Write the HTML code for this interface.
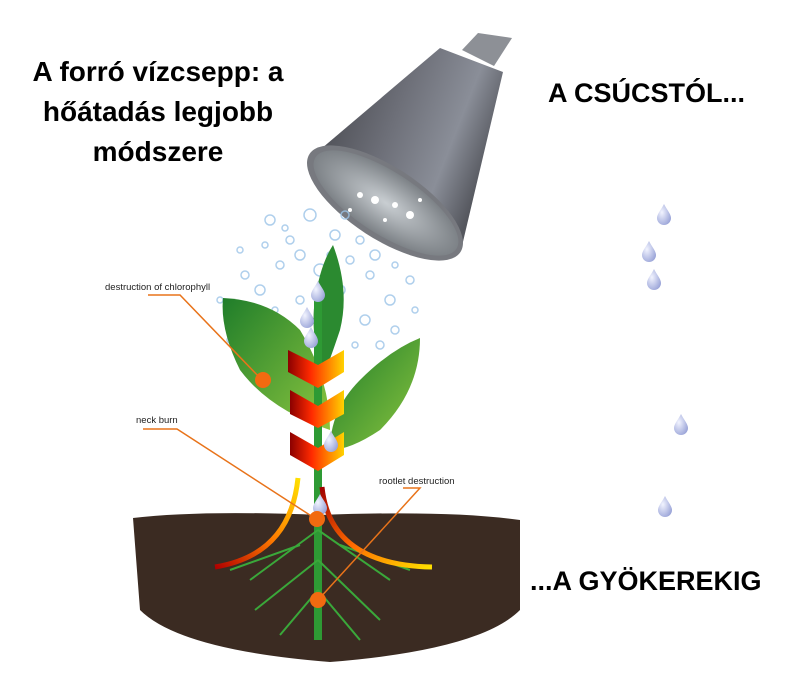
<!DOCTYPE html>
<html><head><meta charset="utf-8"><style>
body{margin:0;background:#fff;}
svg{display:block}
.t{font-family:"Liberation Sans",sans-serif;font-weight:bold;fill:#000}
.l{font-family:"Liberation Sans",sans-serif;font-size:9.5px;fill:#222}
</style></head><body>
<svg width="799" height="686" viewBox="0 0 799 686" xmlns="http://www.w3.org/2000/svg">
<defs>
<linearGradient id="cone" x1="0" y1="0" x2="1" y2="0.4">
<stop offset="0" stop-color="#3a3b40"/><stop offset="0.5" stop-color="#6d6f78"/><stop offset="0.8" stop-color="#8a8e98"/><stop offset="1" stop-color="#55575e"/></linearGradient>
<radialGradient id="inner" cx="0.5" cy="0.5" r="0.6"><stop offset="0" stop-color="#c9ced2"/><stop offset="1" stop-color="#6e7378"/></radialGradient>
<linearGradient id="chev" x1="0" y1="0" x2="1" y2="0"><stop offset="0" stop-color="#8b0000"/><stop offset="0.4" stop-color="#ff2a00"/><stop offset="1" stop-color="#ffd200"/></linearGradient>
<linearGradient id="leaf" x1="0" y1="0" x2="1" y2="1"><stop offset="0" stop-color="#1f7d2a"/><stop offset="1" stop-color="#8cc63f"/></linearGradient>
<linearGradient id="arcL" x1="0" y1="1" x2="1" y2="0"><stop offset="0" stop-color="#b00000"/><stop offset="0.5" stop-color="#ff7a00"/><stop offset="1" stop-color="#ffe000"/></linearGradient>
<linearGradient id="arcR" x1="0" y1="0" x2="1" y2="1"><stop offset="0" stop-color="#a00000"/><stop offset="0.5" stop-color="#ff6a00"/><stop offset="1" stop-color="#ffe000"/></linearGradient>
<radialGradient id="drop" cx="0.35" cy="0.4" r="0.7"><stop offset="0" stop-color="#f2f4ff"/><stop offset="1" stop-color="#9aa4d8"/></radialGradient>
<g id="d"><path d="M0,-11 C3,-5 7,-1 7,3 A7,7 0 0 1 -7,3 C-7,-1 -3,-5 0,-11Z" fill="url(#drop)"/></g>
</defs>
<text class="t" font-size="28" text-anchor="middle" x="158" y="81">A forró vízcsepp: a</text>
<text class="t" font-size="28" text-anchor="middle" x="158" y="121">hőátadás legjobb</text>
<text class="t" font-size="28" text-anchor="middle" x="158" y="161">módszere</text>
<text class="t" font-size="27" x="548" y="102">A CSÚCSTÓL...</text>
<text class="t" font-size="27" x="530" y="590">...A GYÖKEREKIG</text>
<!-- pipe -->
<polygon points="462,50 478,33 512,38 494,66" fill="#8d9096"/>
<!-- cone -->
<polygon points="440,48 503,72 462,246 308,160" fill="url(#cone)"/>
<ellipse cx="385" cy="203" rx="90" ry="36" transform="rotate(33 385 203)" fill="#77797f"/>
<ellipse cx="386" cy="203" rx="84" ry="31" transform="rotate(33 386 203)" fill="url(#inner)"/>
<g fill="#fff"><circle cx="360" cy="195" r="3"/><circle cx="375" cy="200" r="4"/><circle cx="395" cy="205" r="3"/><circle cx="410" cy="215" r="4"/><circle cx="385" cy="220" r="2"/><circle cx="350" cy="210" r="2"/><circle cx="420" cy="200" r="2"/></g>
<!-- bubbles -->
<g fill="none" stroke="#9cc4e8" stroke-width="1.5" opacity="0.8">
<circle cx="270" cy="220" r="5"/><circle cx="290" cy="240" r="4"/><circle cx="310" cy="215" r="6"/><circle cx="335" cy="235" r="5"/><circle cx="350" cy="260" r="4"/><circle cx="320" cy="270" r="6"/><circle cx="280" cy="265" r="4"/><circle cx="260" cy="290" r="5"/><circle cx="300" cy="300" r="4"/><circle cx="340" cy="290" r="5"/><circle cx="370" cy="275" r="4"/><circle cx="390" cy="300" r="5"/><circle cx="410" cy="280" r="4"/><circle cx="240" cy="250" r="3"/><circle cx="250" cy="320" r="3"/><circle cx="365" cy="320" r="5"/><circle cx="395" cy="330" r="4"/><circle cx="230" cy="340" r="3"/><circle cx="360" cy="240" r="4"/><circle cx="275" cy="310" r="3"/><circle cx="415" cy="310" r="3"/><circle cx="345" cy="215" r="4"/><circle cx="325" cy="320" r="3"/><circle cx="220" cy="300" r="3"/>
<circle cx="285" cy="228" r="3"/><circle cx="300" cy="255" r="5"/><circle cx="330" cy="255" r="3"/><circle cx="375" cy="255" r="5"/><circle cx="395" cy="265" r="3"/><circle cx="265" cy="245" r="3"/><circle cx="245" cy="275" r="4"/><circle cx="380" cy="345" r="4"/><circle cx="355" cy="345" r="3"/><circle cx="400" cy="355" r="3"/>
</g>
<!-- soil -->
<path d="M133,518 Q200,510 320,515 Q450,510 520,520 L520,610 Q480,650 330,662 Q180,650 140,610 Z" fill="#3b2b22"/>
<!-- leaves -->
<path d="M223,298 Q270,300 300,330 Q330,380 330,430 Q270,410 240,370 Q220,330 223,298Z" fill="url(#leaf)"/>
<path d="M420,338 Q420,390 380,430 Q350,450 330,450 Q330,410 360,380 Q390,350 420,338Z" fill="url(#leaf)"/>
<path d="M333,245 Q350,290 340,330 Q330,360 322,380 Q310,330 315,300 Q320,265 333,245Z" fill="#2b8a30"/>
<!-- stem -->
<rect x="314" y="300" width="8" height="340" fill="#2e9a34"/>
<g stroke="#3aa83a" stroke-width="2" fill="none">
<path d="M318,530 L250,580 M318,530 L390,580 M318,560 L255,610 M318,560 L380,620 M318,590 L280,635 M318,590 L360,640 M300,545 L230,570 M340,545 L410,570"/>
</g>
<!-- arcs -->
<path d="M298,478 Q290,555 215,567" stroke="url(#arcL)" stroke-width="5" fill="none"/>
<path d="M322,487 Q330,565 432,567" stroke="url(#arcR)" stroke-width="5" fill="none"/>
<!-- chevrons -->
<g fill="url(#chev)">
<polygon points="288,350 318,365 344,350 344,372 318,388 288,372"/>
<polygon points="290,390 318,406 344,390 344,414 318,428 290,414"/>
<polygon points="290,432 318,448 344,432 344,455 318,471 290,455"/>
</g>
<!-- drops -->
<use href="#d" x="318" y="292"/><use href="#d" x="307" y="318"/><use href="#d" x="311" y="338"/><use href="#d" x="331" y="442"/><use href="#d" x="320" y="505"/>
<use href="#d" x="664" y="215"/><use href="#d" x="649" y="252"/><use href="#d" x="654" y="280"/><use href="#d" x="681" y="425"/><use href="#d" x="665" y="507"/>
<!-- labels -->
<g stroke="#e8731a" stroke-width="1.5" fill="none">
<path d="M148,295 L180,295 L262,380"/>
<path d="M143,429 L177,429 L316,519"/>
<path d="M403,488 L420,488 L318,600"/>
</g>
<g fill="#f26a10"><circle cx="263" cy="380" r="8"/><circle cx="317" cy="519" r="8"/><circle cx="318" cy="600" r="8"/></g>
<text class="l" x="105" y="290">destruction of chlorophyll</text>
<text class="l" x="136" y="423">neck burn</text>
<text class="l" x="379" y="484">rootlet destruction</text>
</svg>
</body></html>
